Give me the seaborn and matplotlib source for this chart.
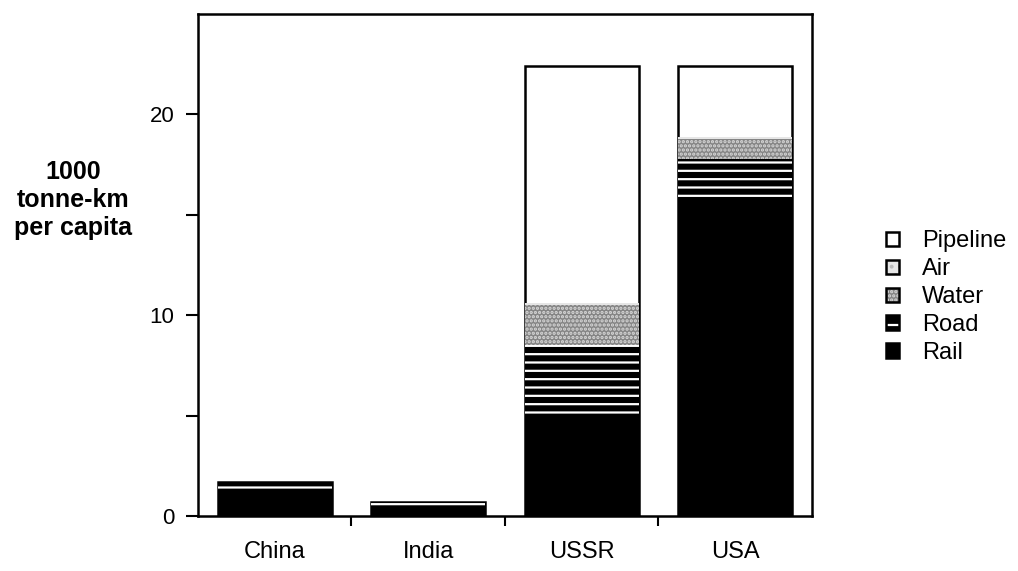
import numpy as np
import pandas as pd
import seaborn as sns
import matplotlib.pyplot as plt
from matplotlib.patches import Patch
from matplotlib.legend_handler import HandlerTuple
from matplotlib.ticker import FixedLocator

countries = ['China', 'India', 'USSR', 'USA']
rail = [1.3, 0.35, 5.1, 15.8]
road = [0.4, 0.35, 3.4, 2.0]
water = [0.0, 0.0, 2.0, 0.95]
air = [0.0, 0.0, 0.1, 0.1]
pipeline = [0.0, 0.0, 11.8, 3.55]

modes = ['Rail', 'Road', 'Water', 'Air', 'Pipeline']
series = [rail, road, water, air, pipeline]

sns.set_theme(style='white')
plt.rcParams['font.family'] = ['Liberation Sans', 'DejaVu Sans']
plt.rcParams['text.color'] = 'black'
plt.rcParams['axes.labelcolor'] = 'black'
plt.rcParams['hatch.linewidth'] = 1.6

# cumulative tops, drawn from the highest layer down
cum = np.cumsum(np.array(series), axis=0)
df = pd.DataFrame({'Country': countries})
for m, c in zip(modes, cum):
    df[m] = c

styles = {
    'Pipeline': dict(color='white', edgecolor='black', linewidth=1.8),
    'Air': dict(color='#e6e6e6', edgecolor='#bbbbbb', hatch='..', linewidth=0),
    'Water': dict(color='#858585', edgecolor='#d8d8d8', hatch='....', linewidth=0),
    'Road': dict(color='black', edgecolor='white', hatch='--', linewidth=0),
    'Rail': dict(color='black', edgecolor='black', linewidth=0),
}

fig = plt.figure(figsize=(10.18, 5.71), dpi=100)
ax = fig.add_axes([0.1945, 0.0963, 0.6031, 0.8792])

for m in modes[::-1]:
    sns.barplot(data=df, x='Country', y=m, order=countries, width=0.74,
                saturation=1, ax=ax, **styles[m])

ax.set_xlim(-0.5, 3.5)
ax.set_ylim(0, 25)
ax.set_yticks([0, 10, 20])
ax.yaxis.set_minor_locator(FixedLocator([5, 15]))
ax.xaxis.set_minor_locator(FixedLocator([0.5, 1.5, 2.5]))
ax.tick_params(axis='y', which='both', left=True, direction='out', length=9,
               width=1.5, labelsize=16, pad=8, colors='black')
ax.tick_params(axis='x', which='major', bottom=False, labelsize=17, pad=12,
               labelcolor='black')
ax.tick_params(axis='x', which='minor', bottom=True, direction='out',
               length=7, width=1.5, color='black')
for s in ax.spines.values():
    s.set_color('black')
    s.set_linewidth(1.8)
ax.set_xlabel('')
ax.set_ylabel('1000\ntonne-km\nper capita', rotation=0, fontsize=18,
              fontweight='bold', linespacing=1.2, va='center', ha='center')
ax.yaxis.set_label_coords(-0.203, 0.63)

# legend, top to bottom; fill and black frame drawn on top of each other
handles = []
for m in modes[::-1]:
    st = styles[m]
    fill = Patch(facecolor=st['color'], edgecolor=st['edgecolor'],
                 hatch='-' if m == 'Road' else st.get('hatch'), linewidth=0)
    frame = Patch(facecolor='none', edgecolor='black', linewidth=1.8)
    handles.append((fill, frame))
fig.legend(handles, modes[::-1], loc='upper left', bbox_to_anchor=(0.849, 0.634),
           frameon=False, fontsize=17, handlelength=0.55, handleheight=0.55,
           handletextpad=1.0, labelspacing=0.25,
           handler_map={tuple: HandlerTuple(ndivide=1, pad=0)})

plt.savefig('out.png', dpi=100)
